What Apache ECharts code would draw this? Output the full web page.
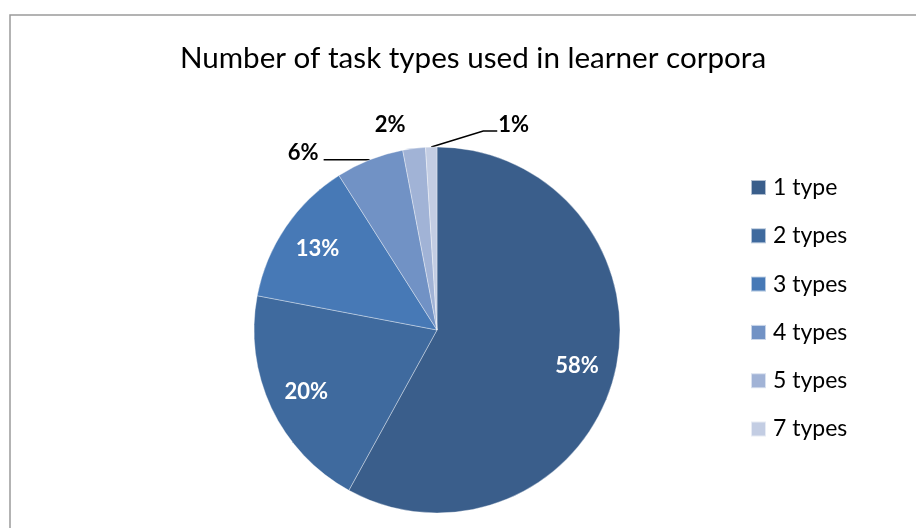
<!DOCTYPE html>
<html>
<head>
<meta charset="utf-8">
<script src="https://cdn.jsdelivr.net/npm/echarts@6/dist/echarts.min.js"></script>
<style>
  html, body { margin: 0; padding: 0; background: #fff; }
  #chart { width: 916px; height: 528px; }
</style>
</head>
<body>
<div id="chart"></div>
<script>
// Share of learner corpora by number of task types
const categories = ['1 type', '2 types', '3 types', '4 types', '5 types', '7 types'];
const shares = [58, 20, 13, 6, 2, 1];
const sliceColors = ['#3a5e8b', '#3f6a9e', '#4779b6', '#7192c5', '#a1b3d6', '#c3cde3'];
const chartTitle = 'Number of task types used in learner corpora';

const FONT = 'Lato, "Open Sans", sans-serif';
const PIE_CENTER = [437, 330];
const PIE_RADIUS = 183;
// inside labels sit at this fraction of the radius
const INNER_LABEL_RATIO = 0.79;

// Small slices get their labels outside the pie
const outsideIdx = [3, 4, 5];

const data = categories.map((name, i) => {
  const item = { name: name, value: shares[i], itemStyle: { color: sliceColors[i] } };
  if (outsideIdx.includes(i)) {
    item.label = { position: 'outside', color: '#000', distance: 4 };
    item.labelLine = { show: i !== 4, length: 1, length2: 46, lineStyle: { color: '#000', width: 1.5 } };
  }
  return item;
});

const chart = echarts.init(document.getElementById('chart'), null, { renderer: 'canvas' });

chart.setOption({
  backgroundColor: '#fff',
  animation: false,
  graphic: [{
    type: 'rect',
    shape: { x: 10, y: 15, width: 1000, height: 1000 },
    style: { fill: 'none', stroke: '#9a9a9a', lineWidth: 1.5 },
    silent: true,
    z: -1
  }],
  title: {
    text: chartTitle,
    left: 468,
    textAlign: 'center',
    top: 38,
    textStyle: { fontFamily: FONT, fontWeight: 'normal', fontSize: 29.6, color: '#000' }
  },
  legend: {
    orient: 'vertical',
    left: 750,
    top: 176,
    padding: 0,
    itemWidth: 15,
    itemHeight: 15,
    itemGap: 25.3,
    icon: 'rect',
    textStyle: { fontFamily: FONT, fontSize: 23, color: '#000', padding: [0, 0, 0, 2] },
    data: categories
  },
  series: [{
    type: 'pie',
    center: PIE_CENTER,
    radius: PIE_RADIUS,
    startAngle: 90,
    clockwise: true,
    avoidLabelOverlap: false,
    itemStyle: { borderColor: 'rgba(255,255,255,0.6)', borderWidth: 0.6 },
    label: {
      show: true,
      position: 'inside',
      formatter: '{c}%',
      fontFamily: FONT,
      fontWeight: 'bold',
      fontSize: 22,
      color: '#fff'
    },
    labelLayout: function (p) {
      const pts = p.labelLinePoints;
      const i = p.dataIndex;
      if (!outsideIdx.includes(i)) {
        // push inside labels outward along the slice's mid-angle
        const r = p.labelRect;
        const lx = r.x + r.width / 2 - PIE_CENTER[0];
        const ly = r.y + r.height / 2 - PIE_CENTER[1];
        const d = Math.sqrt(lx * lx + ly * ly) || 1;
        const k = PIE_RADIUS * INNER_LABEL_RATIO / d;
        return {
          x: PIE_CENTER[0] + lx * k, y: PIE_CENTER[1] + ly * k,
          align: 'center', verticalAlign: 'middle'
        };
      }
      if (!pts) return {};
      const s = pts[0];
      if (i === 3) {
        // 6%: short horizontal leader to the left
        const end = [s[0] - 46, s[1]];
        return {
          x: end[0] - 5, y: end[1] - 7, align: 'right', verticalAlign: 'middle',
          labelLinePoints: [s, [s[0] - 1, s[1]], end]
        };
      }
      if (i === 4) {
        // 2%: sits above the slice, no leader line
        return { x: s[0] - 24, y: s[1] - 24, align: 'center', verticalAlign: 'middle' };
      }
      // 1%: leader line runs up and to the right
      const bend = [s[0] + 52, s[1] - 16];
      const end = [bend[0] + 14, bend[1]];
      return {
        x: end[0] + 1, y: end[1] - 6, align: 'left', verticalAlign: 'middle',
        labelLinePoints: [s, bend, end]
      };
    },
    data: data
  }]
});
</script>
</body>
</html>
